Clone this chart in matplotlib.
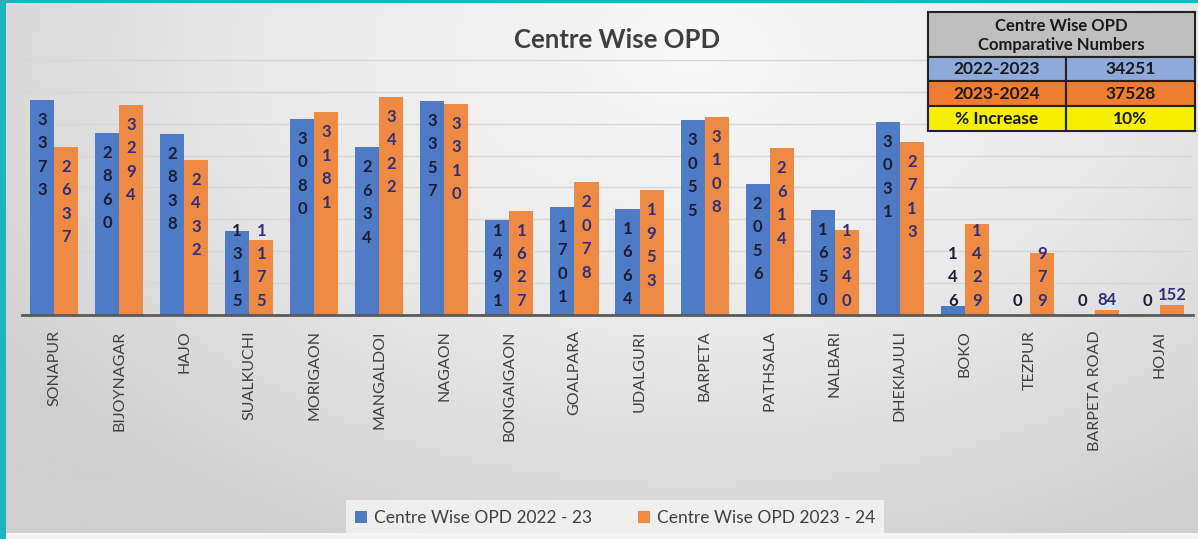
import matplotlib
matplotlib.use("Agg")
import matplotlib.pyplot as plt
import numpy as np
from matplotlib.patches import Rectangle
from matplotlib.colors import LinearSegmentedColormap

# ---------------- data ----------------
centres = ["SONAPUR", "BIJOYNAGAR", "HAJO", "SUALKUCHI", "MORIGAON", "MANGALDOI",
           "NAGAON", "BONGAIGAON", "GOALPARA", "UDALGURI", "BARPETA", "PATHSALA",
           "NALBARI", "DHEKIAJULI", "BOKO", "TEZPUR", "BARPETA ROAD", "HOJAI"]
opd_2022_23 = [3373, 2860, 2838, 1315, 3080, 2634, 3357, 1491, 1701, 1664, 3055,
               2056, 1650, 3031, 146, 0, 0, 0]
opd_2023_24 = [2637, 3294, 2432, 1175, 3181, 3422, 3310, 1627, 2078, 1953, 3108,
               2614, 1340, 2713, 1429, 979, 84, 152]
series_names = ["Centre Wise OPD 2022 - 23", "Centre Wise OPD 2023 - 24"]
table_title = ["Centre Wise OPD", "Comparative Numbers"]
table_labels = ["2022-2023", "2023-2024", "% Increase"]

total_a = sum(opd_2022_23)
total_b = sum(opd_2023_24)
pct = round((total_b - total_a) / total_a * 100)
table_values = [str(total_a), str(total_b), f"{pct}%"]

# ---------------- style ----------------
FONT = ["Lato", "DejaVu Sans"]
plt.rcParams['font.family'] = FONT
BLUE = "#4f7ac6"
ORANGE = "#ef8a45"
W, H = 1198, 539
DPI = 100

fig = plt.figure(figsize=(W / DPI, H / DPI), dpi=DPI)

# background gradient
bg = fig.add_axes([0, 0, 1, 1], zorder=-10)
yy, xx = np.mgrid[0:1:300j, 0:1:600j]
d = np.sqrt(((xx - 0.58) / 0.72) ** 2 + ((yy - 0.10) / 1.05) ** 2)
grad = np.clip(d, 0, 1)
cmap = LinearSegmentedColormap.from_list("bg", ["#f9f9f9", "#e9e9e9", "#cfcfcf"])
bg.imshow(grad, cmap=cmap, extent=[0, W, H, 0], aspect="auto", vmin=0, vmax=1)
bg.set_xlim(0, W)
bg.set_ylim(H, 0)
bg.axis("off")
# teal frame on left and top
bg.add_patch(Rectangle((0, 0), 6, H, color="#1fb3bd", lw=0))
bg.add_patch(Rectangle((0, 0), W, 3, color="#1fb3bd", lw=0))
bg.add_patch(Rectangle((6, 533), W, 6, color="#f4f4f4", lw=0))

# ---------------- main axes ----------------
ax_left, ax_right = 21.5, 1192.5
baseline, top_px = 315, 28
ymax = 4500
ax = fig.add_axes([ax_left / W, (H - baseline) / H, (ax_right - ax_left) / W,
                   (baseline - top_px) / H])
ax.set_facecolor("none")
x = np.arange(len(centres))
bw = 0.37
b1 = ax.bar(x - bw / 2, opd_2022_23, bw, color=BLUE, zorder=3, label=series_names[0])
b2 = ax.bar(x + bw / 2, opd_2023_24, bw, color=ORANGE, zorder=3, label=series_names[1])
ax.set_xlim(-0.5, len(centres) - 0.5)
ax.set_ylim(0, ymax)
ax.set_yticks(np.arange(500, 4001, 500))
ax.yaxis.grid(True, color="#d6d6d6", lw=1.0, zorder=0)
ax.tick_params(axis="y", length=0, labelleft=False)
for s in ["top", "right", "left"]:
    ax.spines[s].set_visible(False)
ax.spines["bottom"].set_color("#5a5a5a")
ax.spines["bottom"].set_linewidth(2)
ax.spines["bottom"].set_zorder(4)
ax.set_xticks(x)
ax.set_xticklabels(centres, rotation=90, fontsize=11.5, color="#404040")
ax.tick_params(axis="x", length=0, pad=11)

# data labels: stacked digits
ppu = (baseline - top_px) / ymax
step_px = 23.5
pt = 72 / DPI


def label_bars(vals, xs, color, horizontal_small):
    for xv, v in zip(xs, vals):
        s = str(v)
        h = v * ppu
        if horizontal_small and 0 < v < 500:
            yc = max(h + 10, 14)
            ax.annotate(s, (xv, 0), xytext=(0, yc * pt), textcoords="offset points",
                        ha="center", va="center", fontsize=12, fontweight="bold",
                        color=color, zorder=5)
            continue
        n = len(s)
        first = h - 20
        if first - (n - 1) * step_px < 14:
            first = 14 + (n - 1) * step_px
        for i, ch in enumerate(s):
            yc = first - i * step_px
            ax.annotate(ch, (xv, 0), xytext=(0, yc * pt), textcoords="offset points",
                        ha="center", va="center", fontsize=12, fontweight="bold",
                        color=color, zorder=5)


label_bars(opd_2022_23, x - bw / 2, "#1c1c34", False)
label_bars(opd_2023_24, x + bw / 2, "#2f3078", True)

# title
fig.text(617 / W, 1 - 40 / H, "Centre Wise OPD", ha="center", va="center",
         fontsize=18.5, fontweight="bold", color="#404040")

# legend
leg = fig.legend(handles=[b1, b2], loc="center", bbox_to_anchor=(615 / W, 1 - 518 / H),
                 ncol=2, frameon=True, fontsize=12.5, handlelength=0.7, handleheight=0.7,
                 handletextpad=0.4, columnspacing=2.6, borderpad=0.55, fancybox=False)
leg.get_frame().set_facecolor("#f6f6f6")
leg.get_frame().set_edgecolor("none")
for t in leg.get_texts():
    t.set_color("#404040")

# ---------------- comparison table ----------------
ta = fig.add_axes([0, 0, 1, 1], zorder=20)
ta.set_xlim(0, W)
ta.set_ylim(H, 0)
ta.axis("off")
tx0, tx1, txm = 928, 1195, 1066
rows_y = [12, 57, 81, 106, 131]
row_colors = ["#bfbfbf", "#8eaadb", "#ef7c2f", "#f4f000"]
ec = "#222222"
ta.add_patch(Rectangle((tx0, rows_y[0]), tx1 - tx0, rows_y[1] - rows_y[0],
                       facecolor=row_colors[0], edgecolor=ec, lw=1.5))
ta.text((tx0 + tx1) / 2, 26, table_title[0], ha="center", va="center",
        fontsize=12, fontweight="bold", color="#1a1a1a")
ta.text((tx0 + tx1) / 2, 45, table_title[1], ha="center", va="center",
        fontsize=12, fontweight="bold", color="#1a1a1a")
for i, (lab, val) in enumerate(zip(table_labels, table_values)):
    y0, y1 = rows_y[i + 1], rows_y[i + 2]
    for (a, b), txt in (((tx0, txm), lab), ((txm, tx1), val)):
        ta.add_patch(Rectangle((a, y0), b - a, y1 - y0, facecolor=row_colors[i + 1],
                               edgecolor=ec, lw=1.5))
        ta.text((a + b) / 2, (y0 + y1) / 2 + 0.5, txt, ha="center", va="center",
                fontsize=12.5, fontweight="bold", color="#1a1a1a")

fig.savefig("out.png", dpi=DPI)
